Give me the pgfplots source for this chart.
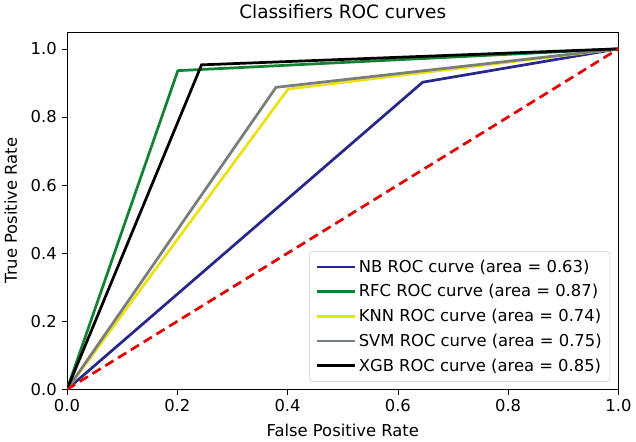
\documentclass[border=0pt]{standalone}
\usepackage{pgfplots}
\pgfplotsset{compat=1.18}
\usepackage{fontspec}
\setmainfont{DejaVu Sans}
\definecolor{nbblue}{RGB}{40,40,140}
\definecolor{rfcgreen}{RGB}{20,130,50}
\definecolor{knnyellow}{RGB}{235,225,20}
\definecolor{svmgray}{RGB}{120,125,125}
\begin{document}
\begin{tikzpicture}
\begin{axis}[
    width=404pt, height=262pt,
    scale only axis,
    xmin=0, xmax=1, ymin=0, ymax=1.05,
    xtick={0,0.2,0.4,0.6,0.8,1.0},
    ytick={0,0.2,0.4,0.6,0.8,1.0},
    xticklabel style={/pgf/number format/.cd,fixed,fixed zerofill,precision=1},
    yticklabel style={/pgf/number format/.cd,fixed,fixed zerofill,precision=1},
    /pgf/number format/assume math mode=true,
    tick align=outside,
    xtick pos=bottom, ytick pos=left,
    major tick length=4pt,
    tick style={black, thin},
    ticklabel style={font=\fontsize{12}{14}\selectfont},
    title={Classifiers ROC curves},
    title style={font=\fontsize{13.5}{16}\selectfont},
    xlabel={False Positive Rate},
    ylabel={True Positive Rate},
    label style={font=\fontsize{12}{14}\selectfont},
    xlabel style={yshift=-2pt},
    ylabel style={yshift=3pt},
    legend style={at={(0.985,0.022)}, anchor=south east,
        font=\fontsize{12}{14}\selectfont, draw=black!20, rounded corners=2pt,
        row sep=3.5pt, inner sep=4pt},
    legend cell align=left,
    legend image code/.code={\draw[#1] (0pt,0pt) -- (28pt,0pt);},
]
\addplot[nbblue, line width=2pt] coordinates {(0,0) (0.645,0.902) (1,1)};
\addlegendentry{NB ROC curve (area = 0.63)}
\addplot[rfcgreen, line width=2pt] coordinates {(0,0) (0.201,0.936) (1,1)};
\addlegendentry{RFC ROC curve (area = 0.87)}
\addplot[knnyellow, line width=2pt] coordinates {(0,0) (0.401,0.882) (1,1)};
\addlegendentry{KNN ROC curve (area = 0.74)}
\addplot[svmgray, line width=2pt] coordinates {(0,0) (0.379,0.887) (1,1)};
\addlegendentry{SVM ROC curve (area = 0.75)}
\addplot[black, line width=2pt] coordinates {(0,0) (0.244,0.953) (1,1)};
\addlegendentry{XGB ROC curve (area = 0.85)}
\addplot[red!90!black, line width=2pt, dash pattern=on 7pt off 4pt, forget plot] coordinates {(0,0) (1,1)};
\end{axis}
\end{tikzpicture}
\end{document}
